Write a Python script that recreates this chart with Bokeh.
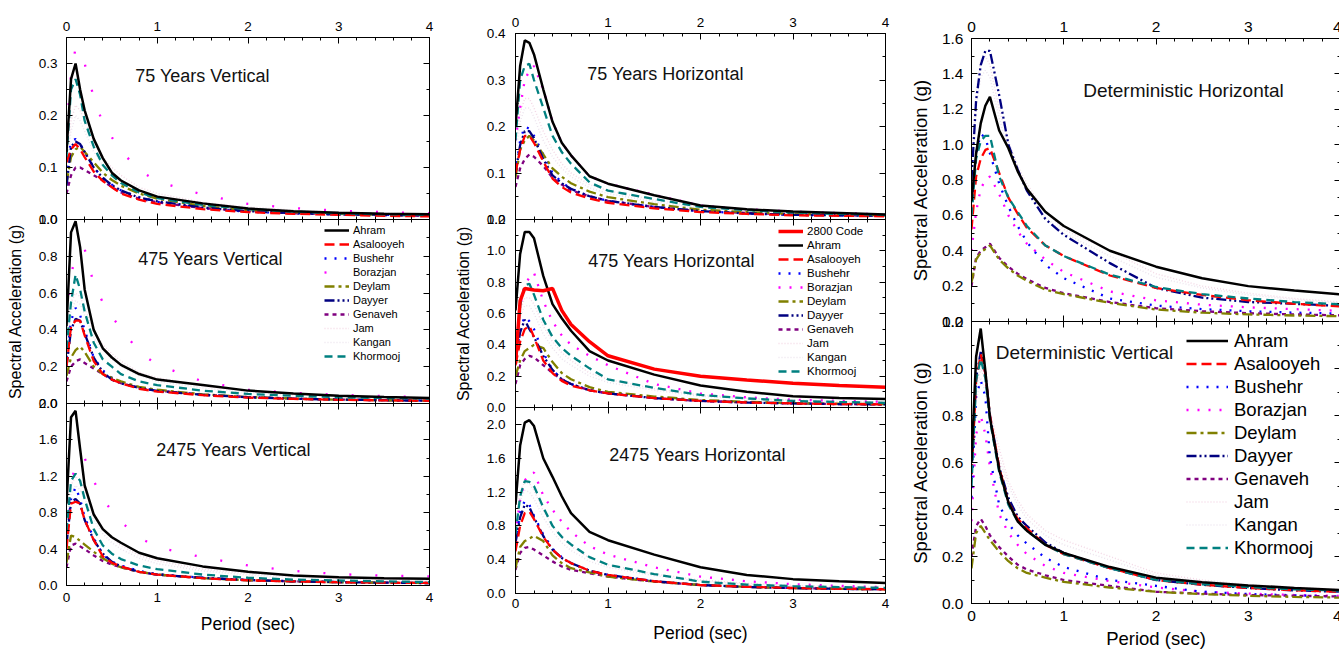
from bokeh.plotting import figure
from bokeh.layouts import row, column
from bokeh.models import (LinearAxis, FixedTicker, PrintfTickFormatter, Range1d,
                          Legend, LegendItem, Label)
from bokeh.embed import file_html
from bokeh.resources import INLINE

FONT = "Liberation Sans"

PERIOD = [0, 0.05, 0.1, 0.15, 0.2, 0.3, 0.4, 0.5, 0.6, 0.8, 1.0, 1.5, 2.0, 2.5, 3.0, 3.5, 4.0]
SITES = ["Ahram", "Asalooyeh", "Bushehr", "Borazjan", "Deylam", "Dayyer",
         "Genaveh", "Jam", "Kangan", "Khormooj"]

V75 = {
    "Ahram":     [0.13, 0.27, 0.30, 0.25, 0.21, 0.155, 0.118, 0.09, 0.075, 0.056, 0.044, 0.031, 0.021, 0.016, 0.013, 0.011, 0.010],
    "Asalooyeh": [0.11, 0.135, 0.145, 0.135, 0.12, 0.092, 0.074, 0.062, 0.05, 0.038, 0.03, 0.02, 0.014, 0.011, 0.009, 0.007, 0.006],
    "Bushehr":   [0.10, 0.15, 0.155, 0.145, 0.13, 0.10, 0.08, 0.067, 0.056, 0.043, 0.034, 0.022, 0.015, 0.012, 0.010, 0.009, 0.008],
    "Borazjan":  [0.17, 0.28, 0.33, 0.325, 0.30, 0.235, 0.185, 0.158, 0.132, 0.095, 0.073, 0.048, 0.030, 0.022, 0.017, 0.014, 0.012],
    "Deylam":    [0.07, 0.12, 0.135, 0.14, 0.13, 0.11, 0.09, 0.076, 0.065, 0.05, 0.04, 0.026, 0.018, 0.014, 0.011, 0.009, 0.008],
    "Dayyer":    [0.065, 0.14, 0.15, 0.145, 0.13, 0.10, 0.08, 0.066, 0.056, 0.042, 0.035, 0.023, 0.016, 0.012, 0.010, 0.009, 0.008],
    "Genaveh":   [0.05, 0.085, 0.10, 0.10, 0.095, 0.085, 0.075, 0.062, 0.052, 0.040, 0.033, 0.022, 0.016, 0.012, 0.010, 0.008, 0.007],
    "Jam":       [0.12, 0.19, 0.22, 0.21, 0.19, 0.15, 0.12, 0.10, 0.085, 0.062, 0.05, 0.033, 0.024, 0.018, 0.014, 0.012, 0.010],
    "Kangan":    [0.11, 0.17, 0.20, 0.19, 0.17, 0.13, 0.105, 0.088, 0.075, 0.056, 0.045, 0.03, 0.021, 0.016, 0.013, 0.011, 0.009],
    "Khormooj":  [0.12, 0.25, 0.27, 0.24, 0.19, 0.14, 0.105, 0.085, 0.07, 0.052, 0.041, 0.028, 0.02, 0.015, 0.012, 0.010, 0.009],
}

V475 = {
    "Ahram":     [0.42, 0.93, 0.99, 0.85, 0.62, 0.40, 0.30, 0.25, 0.21, 0.16, 0.13, 0.10, 0.07, 0.055, 0.042, 0.035, 0.03],
    "Asalooyeh": [0.20, 0.42, 0.45, 0.45, 0.37, 0.23, 0.16, 0.13, 0.11, 0.08, 0.065, 0.045, 0.032, 0.025, 0.02, 0.017, 0.015],
    "Bushehr":   [0.25, 0.45, 0.52, 0.48, 0.40, 0.25, 0.18, 0.14, 0.115, 0.085, 0.07, 0.048, 0.034, 0.026, 0.021, 0.018, 0.016],
    "Borazjan":  [0.45, 0.70, 0.80, 0.83, 0.84, 0.65, 0.55, 0.47, 0.41, 0.28, 0.21, 0.12, 0.075, 0.058, 0.047, 0.04, 0.035],
    "Deylam":    [0.15, 0.25, 0.29, 0.31, 0.28, 0.20, 0.16, 0.14, 0.12, 0.09, 0.075, 0.05, 0.035, 0.027, 0.021, 0.018, 0.015],
    "Dayyer":    [0.20, 0.40, 0.46, 0.45, 0.38, 0.25, 0.17, 0.13, 0.11, 0.085, 0.068, 0.047, 0.034, 0.026, 0.021, 0.018, 0.015],
    "Genaveh":   [0.12, 0.20, 0.23, 0.24, 0.22, 0.19, 0.16, 0.13, 0.11, 0.085, 0.07, 0.048, 0.035, 0.027, 0.021, 0.018, 0.015],
    "Jam":       [0.35, 0.55, 0.60, 0.58, 0.52, 0.40, 0.32, 0.27, 0.23, 0.17, 0.14, 0.095, 0.068, 0.052, 0.042, 0.036, 0.031],
    "Kangan":    [0.30, 0.50, 0.56, 0.54, 0.48, 0.36, 0.29, 0.24, 0.20, 0.15, 0.12, 0.085, 0.06, 0.047, 0.038, 0.032, 0.028],
    "Khormooj":  [0.30, 0.55, 0.70, 0.62, 0.50, 0.33, 0.24, 0.20, 0.16, 0.12, 0.10, 0.07, 0.052, 0.042, 0.034, 0.03, 0.027],
}

V2475 = {
    "Ahram":     [0.90, 1.85, 1.92, 1.50, 1.10, 0.78, 0.62, 0.53, 0.47, 0.36, 0.30, 0.21, 0.15, 0.11, 0.09, 0.08, 0.073],
    "Asalooyeh": [0.40, 0.90, 0.92, 0.90, 0.72, 0.50, 0.32, 0.25, 0.21, 0.15, 0.12, 0.08, 0.057, 0.045, 0.036, 0.031, 0.028],
    "Bushehr":   [0.50, 0.95, 1.08, 0.95, 0.75, 0.52, 0.34, 0.26, 0.22, 0.16, 0.125, 0.085, 0.06, 0.047, 0.038, 0.032, 0.028],
    "Borazjan":  [0.65, 1.10, 1.35, 1.42, 1.40, 1.15, 0.95, 0.82, 0.70, 0.53, 0.42, 0.31, 0.22, 0.16, 0.125, 0.108, 0.10],
    "Deylam":    [0.25, 0.55, 0.53, 0.49, 0.45, 0.37, 0.30, 0.24, 0.20, 0.15, 0.12, 0.08, 0.057, 0.045, 0.036, 0.031, 0.027],
    "Dayyer":    [0.45, 0.92, 0.95, 0.90, 0.72, 0.50, 0.35, 0.26, 0.21, 0.15, 0.12, 0.085, 0.06, 0.046, 0.037, 0.031, 0.027],
    "Genaveh":   [0.20, 0.44, 0.46, 0.43, 0.40, 0.33, 0.27, 0.23, 0.20, 0.15, 0.12, 0.08, 0.057, 0.045, 0.036, 0.031, 0.027],
    "Jam":       [0.70, 1.10, 1.20, 1.15, 1.05, 0.80, 0.63, 0.52, 0.44, 0.33, 0.27, 0.18, 0.13, 0.10, 0.08, 0.068, 0.06],
    "Kangan":    [0.60, 1.00, 1.10, 1.05, 0.95, 0.72, 0.57, 0.47, 0.40, 0.30, 0.24, 0.16, 0.115, 0.09, 0.072, 0.062, 0.055],
    "Khormooj":  [0.60, 1.15, 1.23, 1.15, 0.95, 0.62, 0.44, 0.35, 0.29, 0.22, 0.18, 0.12, 0.085, 0.065, 0.055, 0.045, 0.038],
}

H75 = {
    "Ahram":     [0.20, 0.33, 0.385, 0.38, 0.355, 0.28, 0.21, 0.165, 0.138, 0.093, 0.077, 0.052, 0.030, 0.022, 0.017, 0.014, 0.011],
    "Asalooyeh": [0.10, 0.15, 0.18, 0.18, 0.165, 0.125, 0.088, 0.07, 0.058, 0.045, 0.036, 0.024, 0.016, 0.012, 0.009, 0.008, 0.007],
    "Bushehr":   [0.10, 0.17, 0.20, 0.195, 0.18, 0.14, 0.10, 0.08, 0.066, 0.05, 0.04, 0.027, 0.018, 0.013, 0.010, 0.009, 0.008],
    "Borazjan":  [0.17, 0.24, 0.30, 0.32, 0.33, 0.28, 0.21, 0.165, 0.138, 0.093, 0.077, 0.053, 0.030, 0.022, 0.017, 0.014, 0.011],
    "Deylam":    [0.09, 0.15, 0.17, 0.18, 0.17, 0.14, 0.11, 0.092, 0.078, 0.06, 0.048, 0.033, 0.021, 0.016, 0.012, 0.010, 0.009],
    "Dayyer":    [0.10, 0.16, 0.19, 0.19, 0.175, 0.13, 0.095, 0.078, 0.066, 0.05, 0.04, 0.027, 0.018, 0.013, 0.010, 0.009, 0.008],
    "Genaveh":   [0.07, 0.11, 0.13, 0.14, 0.135, 0.115, 0.09, 0.075, 0.063, 0.05, 0.04, 0.027, 0.018, 0.014, 0.011, 0.009, 0.008],
    "Jam":       [0.16, 0.23, 0.26, 0.26, 0.24, 0.19, 0.15, 0.12, 0.10, 0.075, 0.062, 0.042, 0.028, 0.021, 0.016, 0.013, 0.011],
    "Kangan":    [0.14, 0.21, 0.24, 0.24, 0.22, 0.17, 0.135, 0.11, 0.092, 0.068, 0.056, 0.038, 0.025, 0.019, 0.015, 0.012, 0.010],
    "Khormooj":  [0.17, 0.30, 0.33, 0.335, 0.30, 0.24, 0.18, 0.145, 0.12, 0.08, 0.062, 0.044, 0.027, 0.020, 0.015, 0.012, 0.010],
}

H475 = {
    "Ahram":     [0.62, 0.98, 1.12, 1.12, 1.08, 0.84, 0.66, 0.57, 0.49, 0.36, 0.30, 0.21, 0.14, 0.10, 0.072, 0.06, 0.054],
    "Asalooyeh": [0.27, 0.42, 0.50, 0.52, 0.45, 0.30, 0.22, 0.17, 0.14, 0.11, 0.09, 0.06, 0.042, 0.032, 0.026, 0.022, 0.02],
    "Bushehr":   [0.30, 0.50, 0.58, 0.55, 0.50, 0.35, 0.24, 0.18, 0.15, 0.11, 0.09, 0.06, 0.042, 0.032, 0.026, 0.022, 0.02],
    "Borazjan":  [0.40, 0.65, 0.78, 0.83, 0.86, 0.68, 0.55, 0.46, 0.40, 0.33, 0.27, 0.15, 0.09, 0.065, 0.05, 0.042, 0.036],
    "Deylam":    [0.20, 0.30, 0.36, 0.38, 0.40, 0.38, 0.29, 0.22, 0.18, 0.13, 0.10, 0.07, 0.048, 0.036, 0.028, 0.024, 0.021],
    "Dayyer":    [0.30, 0.48, 0.56, 0.50, 0.45, 0.33, 0.24, 0.18, 0.15, 0.11, 0.09, 0.06, 0.042, 0.032, 0.026, 0.022, 0.02],
    "Genaveh":   [0.15, 0.27, 0.31, 0.33, 0.32, 0.27, 0.22, 0.18, 0.15, 0.11, 0.09, 0.06, 0.042, 0.032, 0.026, 0.022, 0.02],
    "Jam":       [0.45, 0.62, 0.70, 0.70, 0.66, 0.52, 0.42, 0.35, 0.30, 0.22, 0.18, 0.12, 0.08, 0.06, 0.048, 0.04, 0.035],
    "Kangan":    [0.40, 0.58, 0.65, 0.65, 0.60, 0.47, 0.38, 0.31, 0.27, 0.20, 0.16, 0.11, 0.072, 0.055, 0.044, 0.037, 0.032],
    "Khormooj":  [0.30, 0.65, 0.78, 0.79, 0.72, 0.56, 0.45, 0.38, 0.33, 0.25, 0.18, 0.125, 0.08, 0.058, 0.042, 0.035, 0.03],
}
CODE2800 = [0.28, 0.68, 0.76, 0.755, 0.75, 0.745, 0.76, 0.62, 0.53, 0.42, 0.33, 0.245, 0.20, 0.175, 0.155, 0.14, 0.13]

H2475 = {
    "Ahram":     [1.05, 1.75, 2.02, 2.05, 1.98, 1.60, 1.38, 1.15, 0.95, 0.73, 0.63, 0.46, 0.31, 0.22, 0.17, 0.145, 0.125],
    "Asalooyeh": [0.50, 0.80, 0.95, 0.97, 0.88, 0.67, 0.52, 0.42, 0.36, 0.27, 0.22, 0.145, 0.10, 0.08, 0.065, 0.056, 0.05],
    "Bushehr":   [0.60, 0.95, 1.10, 1.05, 0.92, 0.70, 0.53, 0.43, 0.36, 0.27, 0.22, 0.145, 0.10, 0.08, 0.065, 0.056, 0.05],
    "Borazjan":  [0.70, 1.10, 1.34, 1.40, 1.43, 1.16, 0.99, 0.85, 0.73, 0.56, 0.46, 0.31, 0.20, 0.145, 0.11, 0.09, 0.075],
    "Deylam":    [0.30, 0.55, 0.62, 0.65, 0.68, 0.62, 0.45, 0.36, 0.30, 0.25, 0.20, 0.14, 0.10, 0.078, 0.064, 0.055, 0.05],
    "Dayyer":    [0.60, 0.90, 1.05, 1.02, 0.90, 0.68, 0.52, 0.42, 0.36, 0.27, 0.22, 0.145, 0.10, 0.078, 0.064, 0.055, 0.05],
    "Genaveh":   [0.28, 0.48, 0.54, 0.55, 0.52, 0.45, 0.38, 0.32, 0.28, 0.24, 0.20, 0.14, 0.10, 0.078, 0.064, 0.055, 0.05],
    "Jam":       [0.80, 1.20, 1.32, 1.30, 1.22, 0.98, 0.80, 0.66, 0.56, 0.42, 0.34, 0.23, 0.16, 0.12, 0.095, 0.08, 0.07],
    "Kangan":    [0.70, 1.10, 1.22, 1.20, 1.12, 0.90, 0.73, 0.60, 0.51, 0.38, 0.31, 0.21, 0.145, 0.11, 0.087, 0.073, 0.064],
    "Khormooj":  [0.70, 1.15, 1.33, 1.32, 1.27, 1.02, 0.80, 0.67, 0.58, 0.43, 0.34, 0.23, 0.14, 0.105, 0.087, 0.075, 0.067],
}

DH = {
    "Ahram":     [0.68, 0.95, 1.12, 1.22, 1.27, 1.08, 0.98, 0.85, 0.75, 0.62, 0.54, 0.40, 0.31, 0.245, 0.20, 0.175, 0.153],
    "Asalooyeh": [0.52, 0.82, 0.92, 0.97, 0.98, 0.84, 0.70, 0.61, 0.53, 0.43, 0.37, 0.26, 0.19, 0.15, 0.12, 0.10, 0.085],
    "Bushehr":   [0.62, 0.95, 1.06, 1.04, 0.95, 0.78, 0.65, 0.54, 0.45, 0.32, 0.245, 0.13, 0.09, 0.07, 0.058, 0.05, 0.045],
    "Borazjan":  [0.40, 0.62, 0.75, 0.80, 0.82, 0.72, 0.60, 0.51, 0.44, 0.35, 0.28, 0.17, 0.12, 0.095, 0.08, 0.07, 0.06],
    "Deylam":    [0.22, 0.35, 0.39, 0.41, 0.43, 0.35, 0.30, 0.26, 0.23, 0.18, 0.155, 0.105, 0.068, 0.05, 0.04, 0.034, 0.03],
    "Dayyer":    [0.80, 1.25, 1.45, 1.53, 1.53, 1.28, 1.00, 0.86, 0.74, 0.58, 0.49, 0.33, 0.19, 0.135, 0.11, 0.10, 0.088],
    "Genaveh":   [0.20, 0.36, 0.40, 0.42, 0.44, 0.36, 0.31, 0.27, 0.24, 0.19, 0.16, 0.11, 0.075, 0.058, 0.047, 0.04, 0.035],
    "Jam":       [0.90, 1.30, 1.48, 1.50, 1.45, 1.20, 1.02, 0.88, 0.78, 0.62, 0.52, 0.40, 0.27, 0.20, 0.16, 0.13, 0.11],
    "Kangan":    [0.85, 1.20, 1.38, 1.42, 1.38, 1.15, 0.97, 0.84, 0.74, 0.59, 0.50, 0.37, 0.25, 0.19, 0.15, 0.125, 0.105],
    "Khormooj":  [0.60, 0.92, 1.02, 1.05, 1.05, 0.82, 0.70, 0.62, 0.54, 0.43, 0.37, 0.265, 0.195, 0.155, 0.13, 0.11, 0.097],
}

DV = {
    "Ahram":     [0.60, 1.05, 1.17, 0.99, 0.79, 0.57, 0.43, 0.35, 0.31, 0.25, 0.215, 0.155, 0.11, 0.09, 0.077, 0.066, 0.057],
    "Asalooyeh": [0.55, 0.95, 1.06, 0.98, 0.80, 0.58, 0.43, 0.36, 0.32, 0.25, 0.21, 0.15, 0.10, 0.08, 0.066, 0.056, 0.05],
    "Bushehr":   [0.45, 0.88, 0.95, 0.88, 0.62, 0.42, 0.34, 0.29, 0.255, 0.195, 0.155, 0.10, 0.075, 0.05, 0.04, 0.035, 0.03],
    "Borazjan":  [0.35, 0.72, 0.80, 0.72, 0.58, 0.38, 0.30, 0.25, 0.21, 0.16, 0.13, 0.095, 0.068, 0.05, 0.042, 0.036, 0.032],
    "Deylam":    [0.15, 0.30, 0.33, 0.30, 0.27, 0.22, 0.18, 0.15, 0.13, 0.11, 0.092, 0.068, 0.05, 0.04, 0.033, 0.028, 0.025],
    "Dayyer":    [0.55, 0.96, 1.07, 0.98, 0.80, 0.58, 0.45, 0.37, 0.33, 0.26, 0.215, 0.15, 0.10, 0.08, 0.066, 0.056, 0.05],
    "Genaveh":   [0.20, 0.33, 0.36, 0.33, 0.29, 0.24, 0.20, 0.165, 0.145, 0.12, 0.10, 0.075, 0.05, 0.042, 0.036, 0.033, 0.03],
    "Jam":       [0.50, 0.90, 1.00, 0.95, 0.82, 0.66, 0.52, 0.44, 0.38, 0.31, 0.27, 0.20, 0.13, 0.10, 0.08, 0.07, 0.06],
    "Kangan":    [0.48, 0.86, 0.96, 0.90, 0.78, 0.62, 0.50, 0.42, 0.36, 0.29, 0.25, 0.185, 0.12, 0.095, 0.076, 0.066, 0.057],
    "Khormooj":  [0.50, 0.95, 1.04, 0.96, 0.78, 0.56, 0.42, 0.35, 0.31, 0.25, 0.21, 0.15, 0.10, 0.082, 0.07, 0.06, 0.055],
}

STYLE = {
    "Ahram":     ("black",   "solid",         2.5),
    "Asalooyeh": ("#FF0000", "10 5",          2.3),
    "Bushehr":   ("#0000FF", "2 8",           2.3),
    "Borazjan":  ("#FF00FF", "2 9",           2.3),
    "Deylam":    ("#808000", "10 4 3 4",      2.3),
    "Dayyer":    ("#000080", "10 3 2 3 2 3",  2.3),
    "Genaveh":   ("#800080", "4 4",           2.3),
    "Jam":       ("#F3D9E6", "1 2",           1.5),
    "Kangan":    ("#ECE4EE", "1 2",           1.5),
    "Khormooj":  ("#008080", "8 5",           2.3),
}
SPARSE_DOTS = {"Borazjan": "2 24"}   # left column draws Borazjan with wide dots
DRAW_ORDER = ["Jam", "Kangan", "Borazjan", "Bushehr", "Genaveh", "Deylam",
              "Dayyer", "Asalooyeh", "Khormooj", "Ahram"]

OVERLAP = 9   # half-label room kept at the shared edges of stacked panels


def tick_list(step, top):
    n = int(round(top / step))
    return [round(i * step, 4) for i in range(n + 1)]


def base_axis(ax):
    ax.axis_line_color = "black"
    ax.major_tick_in = 6
    ax.major_tick_out = 0
    ax.minor_tick_in = 3
    ax.minor_tick_out = 0
    ax.major_tick_line_color = "black"
    ax.minor_tick_line_color = "black"


def labelled_axis(major, minor, fmt, fs, standoff):
    ax = LinearAxis(ticker=FixedTicker(ticks=major, minor_ticks=minor),
                    formatter=PrintfTickFormatter(format=fmt))
    base_axis(ax)
    ax.major_label_text_font_size = fs
    ax.major_label_text_font = FONT
    ax.major_label_text_color = "black"
    ax.major_label_standoff = standoff
    return ax


def bare_axes(p, side, major, minor):
    # tick marks only (no labels): majors and minors as two label-free axes
    for pos, length in ((major, 6), (minor, 3)):
        ax = LinearAxis(ticker=FixedTicker(ticks=[], minor_ticks=pos))
        base_axis(ax)
        ax.minor_tick_in = length
        ax.major_label_standoff = 0
        p.add_layout(ax, side)


def panel(data, ymax, ystep, fw, fh, borders, tick_fs,
          top_labels=False, top_standoff=7,
          bottom_labels=False, bottom_standoff=7,
          xlabel_fs=None, xlabel_standoff=0,
          ylabel_fs=None, ylabel_standoff=0, y_standoff=8,
          title=None, title_xy=(0, 0), title_fs="18px",
          legend=None, code=None, stacked=False, dash_over=None):
    bl, br, bt, bb = borders
    p = figure(frame_width=fw, frame_height=fh,
               x_range=Range1d(0, 4), y_range=Range1d(0, ymax),
               x_axis_location=None, y_axis_location=None,
               output_backend="svg", toolbar_location=None,
               min_border_left=bl, min_border_right=br,
               min_border_top=bt, min_border_bottom=bb,
               background_fill_color="white", border_fill_alpha=0,
               outline_line_color="black", outline_line_width=1,
               margin=(-2 * OVERLAP, 0, 0, 0) if stacked else None)
    p.grid.visible = False

    xmaj = tick_list(1, 4)
    xmin = [round(0.2 * i, 2) for i in range(21) if i % 5 != 0]
    ymaj = tick_list(ystep, ymax)
    ymin = [round(v + ystep / 2, 4) for v in ymaj if v + ystep / 2 < ymax - 1e-6]

    left = labelled_axis(ymaj, ymin, "%.1f", tick_fs, y_standoff)
    if ylabel_fs:
        left.axis_label = "Spectral Acceleration (g)"
        left.axis_label_text_font = FONT
        left.axis_label_text_font_size = ylabel_fs
        left.axis_label_text_font_style = "normal"
        left.axis_label_text_color = "black"
        left.axis_label_standoff = ylabel_standoff
    p.add_layout(left, "left")

    bare_axes(p, "right", ymaj, ymin)

    if top_labels:
        p.add_layout(labelled_axis(xmaj, xmin, "%d", tick_fs, top_standoff), "above")
    else:
        bare_axes(p, "above", xmaj, xmin)

    if bottom_labels:
        bottom = labelled_axis(xmaj, xmin, "%d", tick_fs, bottom_standoff)
        bottom.axis_label = "Period (sec)"
        bottom.axis_label_text_font = FONT
        bottom.axis_label_text_font_size = xlabel_fs
        bottom.axis_label_text_font_style = "normal"
        bottom.axis_label_text_color = "black"
        bottom.axis_label_standoff = xlabel_standoff
        p.add_layout(bottom, "below")
    else:
        bare_axes(p, "below", xmaj, xmin)

    over = dash_over or {}
    rends = {}
    for name in DRAW_ORDER:
        color, dash, width = STYLE[name]
        rends[name] = p.line(PERIOD, data[name], line_color=color,
                             line_dash=over.get(name, dash), line_width=width)
    if code is not None:
        rends["2800 Code"] = p.line(PERIOD, code, line_color="#FF0000",
                                    line_width=3.5)

    if title:
        p.add_layout(Label(x=title_xy[0], y=title_xy[1], x_units="screen",
                           y_units="screen", text=title, text_font=FONT,
                           text_font_size=title_fs, text_color="#111111",
                           text_align="center", text_baseline="middle"))

    if legend:
        names = (["2800 Code"] if code is not None else []) + SITES
        items = [LegendItem(label=n, renderers=[rends[n]]) for n in names]
        lg = Legend(items=items, location=legend["loc"], padding=0,
                    spacing=0, margin=0, glyph_width=legend["gw"],
                    glyph_height=legend["ih"], label_height=legend["ih"],
                    label_standoff=legend["ls"],
                    label_text_font=FONT, label_text_font_size=legend["fs"],
                    label_text_color="black",
                    border_line_alpha=0, background_fill_alpha=0)
        p.add_layout(lg)
    return p


O = OVERLAP
# left column
L1 = panel(V75, 0.35, 0.1, 363, 182, (66, 22, 37, O), "13.5px",
           top_labels=True, top_standoff=7, y_standoff=9,
           title="75 Years Vertical", title_xy=(136, 144),
           dash_over=SPARSE_DOTS)
L2 = panel(V475, 1.0, 0.2, 363, 184, (66, 22, O, O), "13.5px",
           y_standoff=9, ylabel_fs="16px", ylabel_standoff=12,
           title="475 Years Vertical", title_xy=(144, 145),
           legend=dict(loc=(258, 40), gw=25, ih=14, ls=4, fs="11px"),
           stacked=True, dash_over=SPARSE_DOTS)
L3 = panel(V2475, 2.0, 0.4, 363, 182, (66, 22, O, 60), "13.5px",
           y_standoff=9, bottom_labels=True, bottom_standoff=7,
           xlabel_fs="17.5px", xlabel_standoff=9,
           title="2475 Years Vertical", title_xy=(167, 136), stacked=True,
           dash_over=SPARSE_DOTS)

# middle column
M1 = panel(H75, 0.4, 0.1, 370, 186, (61, 18, 33, O), "13.5px",
           top_labels=True, top_standoff=7, y_standoff=10,
           title="75 Years Horizontal", title_xy=(150, 146))
M2 = panel(H475, 1.2, 0.2, 370, 188, (61, 18, O, O), "13.5px",
           y_standoff=10, ylabel_fs="16px", ylabel_standoff=12,
           title="475 Years Horizontal", title_xy=(156, 147),
           legend=dict(loc=(263, 29), gw=25, ih=14, ls=4, fs="11.5px"),
           code=CODE2800, stacked=True)
M3 = panel(H2475, 2.2, 0.4, 370, 186, (61, 18, O, 56), "13.5px",
           y_standoff=10, bottom_labels=True, bottom_standoff=5,
           xlabel_fs="17.5px", xlabel_standoff=12,
           title="2475 Years Horizontal", title_xy=(182, 139), stacked=True)

# right column
R1 = panel(DH, 1.6, 0.2, 369, 283, (68, 1, 38, O), "15.5px",
           top_labels=True, top_standoff=7,
           ylabel_fs="18.5px", ylabel_standoff=8,
           title="Deterministic Horizontal", title_xy=(212, 231),
           title_fs="19px")
R2 = panel(DV, 1.2, 0.2, 369, 282, (68, 1, O, 51), "15.5px",
           bottom_labels=True, bottom_standoff=7,
           xlabel_fs="18.5px", xlabel_standoff=4,
           ylabel_fs="18.5px", ylabel_standoff=8,
           title="Deterministic Vertical", title_xy=(113, 251),
           title_fs="19px",
           legend=dict(loc=(215, 44), gw=42, ih=23, ls=6, fs="18.5px"),
           stacked=True)

layout = row(column(L1, L2, L3), column(M1, M2, M3), column(R1, R2))

open("out.html", "w").write(file_html(layout, INLINE))
